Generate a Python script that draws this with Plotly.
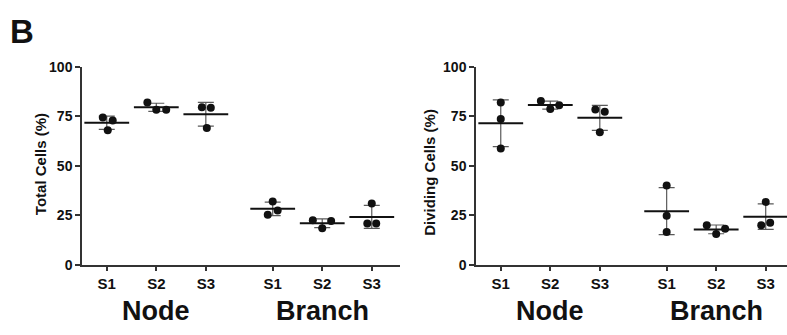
import numpy as np
import plotly.graph_objects as go

groups = ["Node", "Branch"]
samples = ["S1", "S2", "S3"]
cat_pos = [0, 1, 2, 3.35, 4.35, 5.35]
tick_text = ["S1", "S2", "S3", "S1", "S2", "S3"]

# Total Cells (%) - three replicates per category (Node S1..S3, Branch S1..S3)
total_vals = [
    [74.4, 73.0, 68.0],
    [82.0, 78.4, 78.4],
    [79.7, 79.4, 69.2],
    [32.0, 27.4, 25.3],
    [22.4, 22.1, 18.4],
    [30.9, 20.8, 20.8],
]
total_jit = [
    [-0.08, 0.12, 0.02],
    [-0.18, 0.0, 0.2],
    [-0.08, 0.1, 0.02],
    [0.0, 0.1, -0.1],
    [-0.19, 0.18, 0.0],
    [0.0, -0.09, 0.09],
]

# Dividing Cells (%)
div_vals = [
    [82.1, 73.7, 58.8],
    [82.8, 78.8, 80.6],
    [78.5, 77.4, 67.0],
    [40.0, 24.7, 16.5],
    [19.9, 18.1, 15.5],
    [31.7, 19.9, 21.2],
]
div_jit = [
    [0.0, 0.0, 0.0],
    [-0.19, 0.0, 0.18],
    [-0.09, 0.1, 0.0],
    [0.0, 0.0, 0.0],
    [-0.19, 0.18, 0.0],
    [0.0, -0.09, 0.09],
]

FONT = "Liberation Sans, Arial, Helvetica, sans-serif"
fig = go.Figure()


def add_panel(vals, jit, xa, ya):
    xs, ys = [], []
    for p, v, j in zip(cat_pos, vals, jit):
        for vi, ji in zip(v, j):
            xs.append(p + ji)
            ys.append(vi)
    means = [float(np.mean(v)) for v in vals]
    sds = [float(np.std(v, ddof=1)) for v in vals]
    fig.add_trace(go.Scatter(
        x=cat_pos, y=means, mode="markers", xaxis=xa, yaxis=ya,
        marker=dict(symbol="line-ew", size=32, color="#111",
                    line=dict(color="#111", width=2)),
        error_y=dict(type="data", array=sds, visible=True,
                     color="#5a5a5a", thickness=1.2, width=8),
        showlegend=False, cliponaxis=False, hoverinfo="skip"))
    fig.add_trace(go.Scatter(
        x=xs, y=ys, mode="markers", xaxis=xa, yaxis=ya,
        marker=dict(size=8, color="#111"),
        showlegend=False, cliponaxis=False))


add_panel(total_vals, total_jit, "x", "y")
add_panel(div_vals, div_jit, "x2", "y2")

ydom = [1 - 269.5 / 335, 1 - 62 / 335]
axis_common = dict(showgrid=False, zeroline=False, showline=True,
                   linecolor="#333", linewidth=1.5, ticks="outside",
                   ticklen=5, tickwidth=1.5, tickcolor="#333")
xtick_font = dict(family=FONT, size=15, color="#111", weight="bold")
ytick_font = dict(family=FONT, size=14, color="#111", weight="bold")

fig.update_layout(
    width=787, height=335,
    margin=dict(l=0, r=0, t=0, b=0),
    paper_bgcolor="white", plot_bgcolor="white",
    xaxis=dict(domain=[82 / 787, 400 / 787], range=[-0.5, 5.92],
               tickvals=cat_pos, ticktext=tick_text, tickfont=xtick_font,
               anchor="y", **axis_common),
    yaxis=dict(domain=ydom, range=[0, 100], tickvals=[0, 25, 50, 75, 100],
               tickfont=ytick_font, anchor="x", **axis_common),
    xaxis2=dict(domain=[476 / 787, 1.0], range=[-0.5, 5.78],
                tickvals=cat_pos, ticktext=tick_text, tickfont=xtick_font,
                anchor="y2", **axis_common),
    yaxis2=dict(domain=ydom, range=[0, 100], tickvals=[0, 25, 50, 75, 100],
                tickfont=ytick_font, anchor="x2", **axis_common),
)

ann = []
ann.append(dict(text="B", x=8 / 787, y=1 - 25 / 335, xref="paper", yref="paper",
                xanchor="left", yanchor="middle", showarrow=False,
                font=dict(family=FONT, size=33, color="#111", weight="bold")))
ann.append(dict(text="Total Cells (%)", x=40 / 787, y=1 - 164 / 335,
                xref="paper", yref="paper", textangle=-90, showarrow=False,
                xanchor="center", yanchor="middle",
                font=dict(family=FONT, size=15, color="#111", weight="bold")))
ann.append(dict(text="Dividing Cells (%)", x=430 / 787, y=1 - 173 / 335,
                xref="paper", yref="paper", textangle=-90, showarrow=False,
                xanchor="center", yanchor="middle",
                font=dict(family=FONT, size=15, color="#111", weight="bold")))
for xr in ["x", "x2"]:
    for gi, g in enumerate(groups):
        ann.append(dict(text=g, x=cat_pos[gi * 3 + 1], xref=xr,
                        y=1 - 318 / 335, yref="paper", showarrow=False,
                        xanchor="center", yanchor="middle",
                        font=dict(family=FONT, size=27, color="#111",
                                  weight="bold")))
fig.update_layout(annotations=ann)

fig.write_html("out.html")
